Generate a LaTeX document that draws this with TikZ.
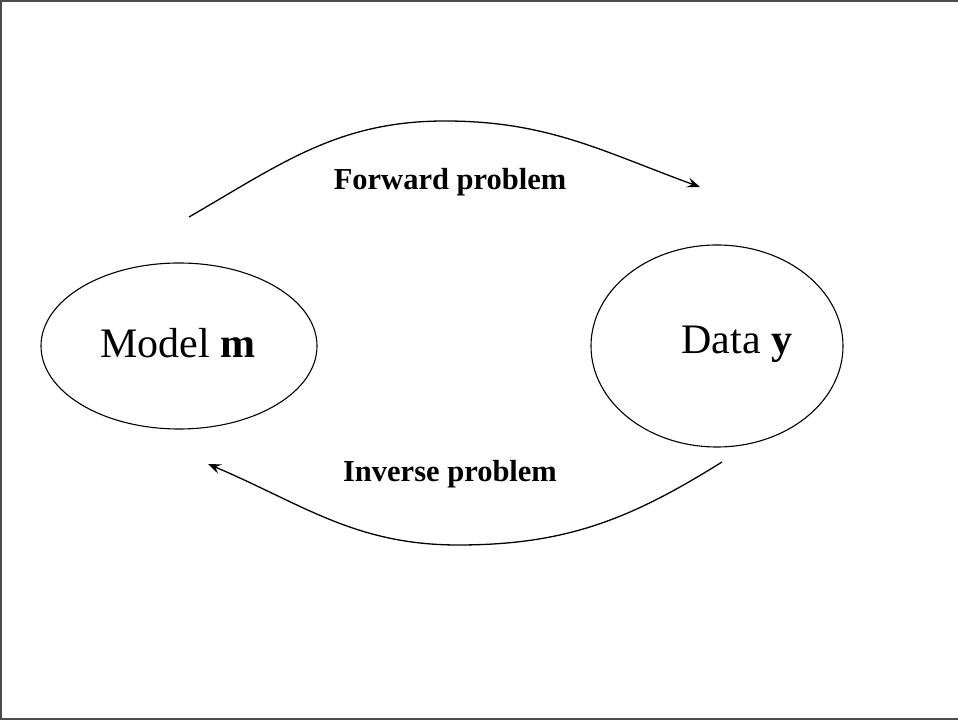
\documentclass[tikz,border=0pt]{standalone}
\usepackage{fontspec}
\setmainfont{Liberation Serif}
\usetikzlibrary{shapes.geometric,arrows.meta}
\begin{document}
\begin{tikzpicture}[x=1pt,y=1pt,
  bubble/.style={draw,ellipse,line width=1.1pt,inner sep=0pt},
  bubbletext/.style={anchor=base,inner sep=0pt,font=\fontsize{42}{42}\selectfont},
  flowlabel/.style={anchor=base,inner sep=0pt,font=\fontsize{30.5}{30.5}\selectfont\bfseries},
  flow/.style={line width=1.3pt,-{Stealth[length=13pt,width=10pt,inset=5pt]}},
  frameline/.style={draw=black!70,line width=2pt}]
\useasboundingbox (0,0) rectangle (958,720);
% frame on three sides
\draw[frameline] (958,719) -- (1,719) -- (1,1) -- (958,1);
% the two states
\node[bubble,minimum width=276,minimum height=166] (model) at (179,374) {};
\node[bubble,minimum width=252,minimum height=202] (data) at (717,374) {};
\node[bubbletext] (modeltxt) at (178,362) {Model \textbf{m}};
\node[bubbletext] (datatxt) at (737,366) {Data \textbf{y}};
% curved connectors
\coordinate (fstart) at (189,503);
\coordinate (ftop) at (445,599);
\coordinate (fend) at (700,533);
\coordinate (istart) at (722,258);
\coordinate (ibottom) at (458,175);
\coordinate (iend) at (208,256);
\draw[flow] (fstart) to[out=30,in=180] (ftop) to[out=0,in=160] (fend);
\draw[flow] (istart) to[out=212,in=0] (ibottom) to[out=180,in=-23] (iend);
\node[flowlabel] (fwd) at (450,530) {Forward problem};
\node[flowlabel] (inv) at (450,238) {Inverse problem};
\end{tikzpicture}
\end{document}
